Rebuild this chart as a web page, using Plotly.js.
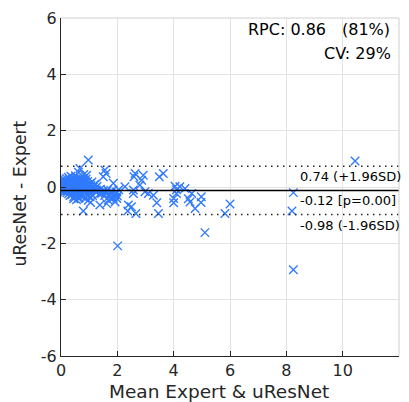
<!DOCTYPE html>
<html>
<head>
<meta charset="utf-8">
<script src="https://cdn.plot.ly/plotly-3.0.1.min.js"></script>
<style>html,body{margin:0;padding:0;background:#fff;}#plot{width:409px;height:402px;}</style>
</head>
<body>
<div id="plot"></div>
<script>
// Mean of Expert & uResNet (x) and difference uResNet - Expert (y)
const meanVals = [
  0.02,0.03,0.04,0.05,0.05,0.06,0.07,0.08,0.09,0.10,0.10,0.11,0.12,0.13,0.14,0.15,0.16,0.17,0.18,0.19,
  0.20,0.21,0.22,0.23,0.24,0.25,0.26,0.27,0.28,0.29,0.30,0.31,0.32,0.33,0.34,0.35,0.36,0.37,0.38,0.39,
  0.40,0.41,0.42,0.43,0.44,0.45,0.46,0.47,0.48,0.49,0.50,0.51,0.52,0.53,0.54,0.55,0.56,0.57,0.58,0.59,
  0.60,0.61,0.62,0.63,0.64,0.65,0.66,0.67,0.68,0.69,0.70,0.71,0.72,0.73,0.74,0.76,0.77,0.78,0.80,0.81,
  0.82,0.84,0.85,0.86,0.88,0.89,0.90,0.92,0.93,0.95,0.96,0.98,1.00,1.02,1.04,1.06,1.08,1.10,1.12,1.15,
  1.18,1.20,1.22,1.25,1.28,
  0.05,0.08,0.12,0.15,0.18,0.20,0.22,0.25,0.27,0.30,0.32,0.35,0.37,0.40,0.42,0.45,0.47,0.50,0.52,0.55,
  0.57,0.60,0.62,0.65,0.68,0.70,0.75,0.80,0.85,0.90,
  1.30,1.35,1.40,1.45,1.50,1.55,1.60,1.65,1.70,1.75,1.80,1.85,1.90,1.95,2.00,2.05,
  0.45,0.55,0.62,
  1.27,1.44,1.38,1.50,1.60,1.56,1.62,1.68,1.74,1.86,1.92,1.98,1.98,0.97,0.79,0.97,1.03,0.91,1.05,1.20,
  2.01,2.27,2.37,2.39,2.50,2.57,2.57,2.59,2.63,2.66,2.80,2.86,2.92,2.98,3.10,3.28,3.40,3.46,3.49,3.63,
  4.00,4.00,4.05,4.10,4.10,4.22,4.40,4.52,4.58,4.64,4.76,4.97,4.98,5.11,5.82,6.00,
  8.20,8.25,8.25,10.44
];
const diffVals = [
  0.05,-0.04,0.12,-0.10,0.02,0.18,-0.15,0.08,-0.02,0.22,-0.08,0.14,0.01,-0.18,0.25,0.06,-0.11,0.17,-0.05,0.30,
  0.03,-0.20,0.11,-0.13,0.20,-0.01,0.35,-0.24,0.09,-0.07,0.27,0.00,-0.30,0.15,-0.16,0.38,0.05,-0.09,0.22,-0.27,
  0.12,-0.03,0.32,-0.19,0.07,-0.35,0.19,-0.06,0.28,-0.14,0.02,0.40,-0.22,0.10,-0.31,0.24,-0.10,0.04,0.33,-0.26,
  0.14,-0.04,0.52,-0.17,0.08,-0.38,0.21,0.66,-0.12,0.30,-0.23,0.06,-0.33,0.17,-0.08,0.26,-0.28,0.11,-0.02,0.44,
  -0.18,0.15,-0.40,0.05,-0.12,0.28,-0.25,0.09,-0.06,0.20,-0.32,0.02,-0.15,0.12,-0.22,0.05,-0.09,0.18,-0.30,0.00,
  -0.12,0.08,-0.05,-0.18,0.03,
  0.00,-0.06,0.07,-0.03,0.13,-0.12,0.04,0.16,-0.04,0.08,0.19,-0.07,0.01,-0.11,0.10,0.03,0.14,-0.08,0.06,-0.02,
  0.17,0.00,-0.09,0.10,0.03,-0.05,0.12,-0.10,0.07,-0.03,
  -0.15,-0.25,-0.08,-0.20,-0.12,-0.30,-0.18,-0.10,-0.35,-0.22,-0.15,-0.40,-0.28,-0.20,-0.32,-0.10,
  -0.42,-0.45,-0.40,
  -0.11,-0.23,-0.64,0.36,0.48,0.60,-0.59,-0.47,-0.29,0.13,-0.53,-0.41,-0.17,0.96,-0.85,-0.47,-0.35,0.42,-0.55,0.10,
  -2.09,0.01,-0.85,-0.64,-0.70,-0.23,-0.11,0.36,0.48,-0.94,0.07,0.24,0.42,-0.17,-0.23,-0.29,-0.56,-0.94,0.36,0.48,
  -0.41,-0.56,0.03,-0.10,-0.23,0.01,-0.05,-0.42,-0.53,-0.23,-0.76,-0.55,-0.35,-1.62,-0.94,-0.60,
  -0.85,-0.20,-2.94,0.92
];
const meanDiff = -0.12;
const upperLoA = 0.74;
const lowerLoA = -0.98;
const pValue = "0.00";
const rpc = "0.86";
const rpcPct = "(81%)";
const cv = "29%";
const xSpan = [0, 12];

const xTickVals = [0, 2, 4, 6, 8, 10, 12];
const xTickText = ["0", "2", "4", "6", "8", "10", "12"];
const yTickVals = [-6, -4, -2, 0, 2, 4, 6];
const yTickText = ["-6", "-4", "-2", "0", "2", "4", "6"];

const font = "DejaVu Sans, sans-serif";
const ink = "#262626";

const traces = [
  {x: meanVals, y: diffVals, type: "scatter", mode: "markers",
   marker: {symbol: "x-thin-open", size: 8.5, color: "rgb(48,122,255)", line: {width: 1.4, color: "rgb(48,122,255)"}},
   hoverinfo: "skip"},
  {x: xSpan, y: [meanDiff, meanDiff], type: "scatter", mode: "lines",
   line: {color: "#000", width: 1.5}},
  {x: xSpan, y: [upperLoA, upperLoA], type: "scatter", mode: "lines",
   line: {color: "#222", width: 1.5, dash: "1.5px,4.5px"}},
  {x: xSpan, y: [lowerLoA, lowerLoA], type: "scatter", mode: "lines",
   line: {color: "#222", width: 1.5, dash: "1.5px,4.5px"}}
];

const axisCommon = {
  showgrid: true, gridcolor: "#e3e3e3", gridwidth: 1,
  zeroline: false, showline: true, linecolor: ink, linewidth: 1,
  ticks: "inside", ticklen: 5, tickcolor: ink,
  tickmode: "array",
  tickfont: {family: font, size: 16, color: ink}
};

const layout = {
  width: 409, height: 402,
  margin: {l: 61, r: 10, t: 18, b: 46, pad: 0},
  paper_bgcolor: "#fff", plot_bgcolor: "#fff",
  showlegend: false,
  font: {family: font, color: ink},
  xaxis: Object.assign({}, axisCommon, {
    range: [0, 12], tickvals: xTickVals, ticktext: xTickText
  }),
  yaxis: Object.assign({}, axisCommon, {
    range: [-6, 6], tickvals: yTickVals, ticktext: yTickText
  }),
  shapes: [
    {type: "line", xref: "paper", yref: "paper", x0: 0, x1: 1, y0: 1, y1: 1, line: {color: "#d0d0d0", width: 1}},
    {type: "line", xref: "paper", yref: "paper", x0: 1, x1: 1, y0: 0, y1: 1, line: {color: "#d0d0d0", width: 1}}
  ],
  annotations: [
    {xref: "paper", yref: "paper", x: 0.4675, y: -0.105, xanchor: "center", yanchor: "middle", showarrow: false,
     text: "Mean Expert & uResNet", font: {family: font, size: 18.5, color: ink}},
    {xref: "paper", yref: "paper", x: -0.1198, y: 0.479, xanchor: "center", yanchor: "middle", showarrow: false,
     textangle: -90, text: "uResNet - Expert", font: {family: font, size: 17.3, color: ink}},
    {xref: "x", yref: "y", x: 8.4, y: upperLoA, xanchor: "left", yanchor: "top", showarrow: false, yshift: -1,
     text: upperLoA.toFixed(2) + " (+1.96SD)", font: {family: font, size: 13, color: "#000"}},
    {xref: "x", yref: "y", x: 8.4, y: meanDiff, xanchor: "left", yanchor: "top", showarrow: false, yshift: -1,
     text: meanDiff.toFixed(2) + " [p=" + pValue + "]", font: {family: font, size: 13, color: "#000"}},
    {xref: "x", yref: "y", x: 8.4, y: lowerLoA, xanchor: "left", yanchor: "top", showarrow: false, yshift: -1,
     text: lowerLoA.toFixed(2) + " (-1.96SD)", font: {family: font, size: 13, color: "#000"}},
    {xref: "paper", yref: "paper", x: 0.5465, y: 0.9645, xanchor: "left", yanchor: "middle", showarrow: false,
     text: "RPC: " + rpc, font: {family: font, size: 16, color: "#000"}},
    {xref: "paper", yref: "paper", x: 0.979, y: 0.9645, xanchor: "right", yanchor: "middle", showarrow: false,
     text: rpcPct, font: {family: font, size: 16, color: "#000"}},
    {xref: "paper", yref: "paper", x: 0.982, y: 0.896, xanchor: "right", yanchor: "middle", showarrow: false,
     text: "CV: " + cv, font: {family: font, size: 16, color: "#000"}}
  ]
};

Plotly.newPlot("plot", traces, layout, {staticPlot: true, displayModeBar: false});
</script>
</body>
</html>
